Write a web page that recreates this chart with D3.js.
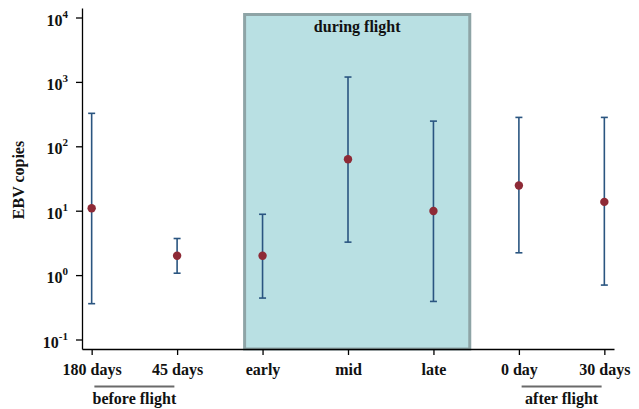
<!DOCTYPE html>
<html>
<head>
<meta charset="utf-8">
<script src="https://cdn.jsdelivr.net/npm/d3@7"></script>
<style>
  html, body { margin: 0; padding: 0; background: #fff; }
  svg { display: block; }
</style>
</head>
<body>
<svg id="chart" width="639" height="409"></svg>
<script>
// Data
const categories = ["180 days", "45 days", "early", "mid", "late", "0 day", "30 days"];
const medians = [10.9, 2.0, 2.0, 63, 9.9, 24.6, 13.7];
const upper   = [325, 3.7, 8.8, 1190, 246, 281, 281];
const lower   = [0.36, 1.07, 0.44, 3.25, 0.39, 2.22, 0.70];
const yTickExps = [-1, 0, 1, 2, 3, 4];
const groups = [
  { label: "before flight", from: "180 days", to: "45 days" },
  { label: "after flight", from: "0 day", to: "30 days" }
];
const flightLabel = "during flight";
const flightRange = ["early", "late"];
const yLabel = "EBV copies";

(function () {
const FONT = "'Liberation Serif', 'Times New Roman', Times, 'DejaVu Serif', serif";
const svg = d3.select("#chart");
const pL = 82, pR = 614, pT = 8, pB = 349;

const pad = 0.1475;
const y = d3.scaleLog()
  .domain([Math.pow(10, -1 - pad), Math.pow(10, 4 + pad)])
  .range([pB, pT]);

const x = d3.scalePoint()
  .domain(categories)
  .range([pL, pR])
  .padding(0.113);
const step = x.step();

function txt(sel) {
  return sel.style("font-family", FONT).style("font-weight", "bold").attr("fill", "#111");
}

// Shaded "during flight" box
const bx0 = x(flightRange[0]) - 0.21 * step;
const bx1 = x(flightRange[1]) + 0.425 * step;
const by0 = y(1e4) - 3;
svg.append("rect")
  .attr("x", bx0).attr("y", by0)
  .attr("width", bx1 - bx0).attr("height", pB - by0)
  .attr("fill", "#b9e0e3")
  .attr("stroke", "#8ea4a6")
  .attr("stroke-width", 3);
txt(svg.append("text"))
  .attr("x", (bx0 + bx1) / 2).attr("y", 32)
  .attr("text-anchor", "middle")
  .attr("font-size", 16)
  .text(flightLabel);

// Y axis
const yAxis = d3.axisLeft(y)
  .tickValues(yTickExps.map(e => Math.pow(10, e)))
  .tickSize(6).tickSizeOuter(0)
  .tickFormat("");
const gy = svg.append("g").attr("transform", `translate(${pL},0)`).call(yAxis);
gy.attr("font-family", null).attr("font-size", null);
gy.select(".domain").attr("stroke", "#000").attr("stroke-width", 1.3);
gy.selectAll(".tick line").attr("stroke", "#000").attr("stroke-width", 1.3);
gy.selectAll(".tick").each(function(d, i) {
  const t = txt(d3.select(this).append("text"))
    .attr("x", -14).attr("dy", "0.47em")
    .attr("text-anchor", "end")
    .attr("font-size", 16);
  t.append("tspan").text("10");
  t.append("tspan").attr("dy", -8).attr("font-size", 11).text(String(yTickExps[i]));
});

// X axis
const xAxis = d3.axisBottom(x).tickSize(6).tickSizeOuter(0).tickFormat("");
const gx = svg.append("g").attr("transform", `translate(0,${pB})`).call(xAxis);
gx.attr("font-family", null).attr("font-size", null);
gx.select(".domain").attr("stroke", "#000").attr("stroke-width", 1.3);
gx.selectAll(".tick line").attr("stroke", "#000").attr("stroke-width", 1.3);
txt(gx.selectAll(".tick").append("text"))
  .attr("y", 26).attr("text-anchor", "middle")
  .attr("font-size", 16)
  .text(d => d);

// Group labels
groups.forEach(g => {
  const a = x(g.from), b = x(g.to);
  const cx = (a + b) / 2;
  svg.append("line")
    .attr("x1", cx - 40).attr("x2", cx + 40)
    .attr("y1", 386.5).attr("y2", 386.5)
    .attr("stroke", "#6a6a6a").attr("stroke-width", 2);
  txt(svg.append("text"))
    .attr("x", cx).attr("y", 404)
    .attr("text-anchor", "middle")
    .attr("font-size", 16)
    .text(g.label);
});

// Y label
txt(svg.append("text"))
  .attr("transform", `translate(24,180) rotate(-90)`)
  .attr("text-anchor", "middle")
  .attr("font-size", 16)
  .text(yLabel);

// Error bars
const barColor = "#2a5580";
const capW = 3.5;
const gE = svg.append("g");
categories.forEach((c, i) => {
  const cx = x(c);
  gE.append("line")
    .attr("x1", cx).attr("x2", cx)
    .attr("y1", y(upper[i])).attr("y2", y(lower[i]))
    .attr("stroke", barColor).attr("stroke-width", 1.6);
  [upper[i], lower[i]].forEach(v => {
    gE.append("line")
      .attr("x1", cx - capW).attr("x2", cx + capW)
      .attr("y1", y(v)).attr("y2", y(v))
      .attr("stroke", barColor).attr("stroke-width", 1.6);
  });
  gE.append("circle")
    .attr("cx", cx).attr("cy", y(medians[i]))
    .attr("r", 4.2)
    .attr("fill", "#8e2a36");
});
})();
</script>
</body>
</html>
